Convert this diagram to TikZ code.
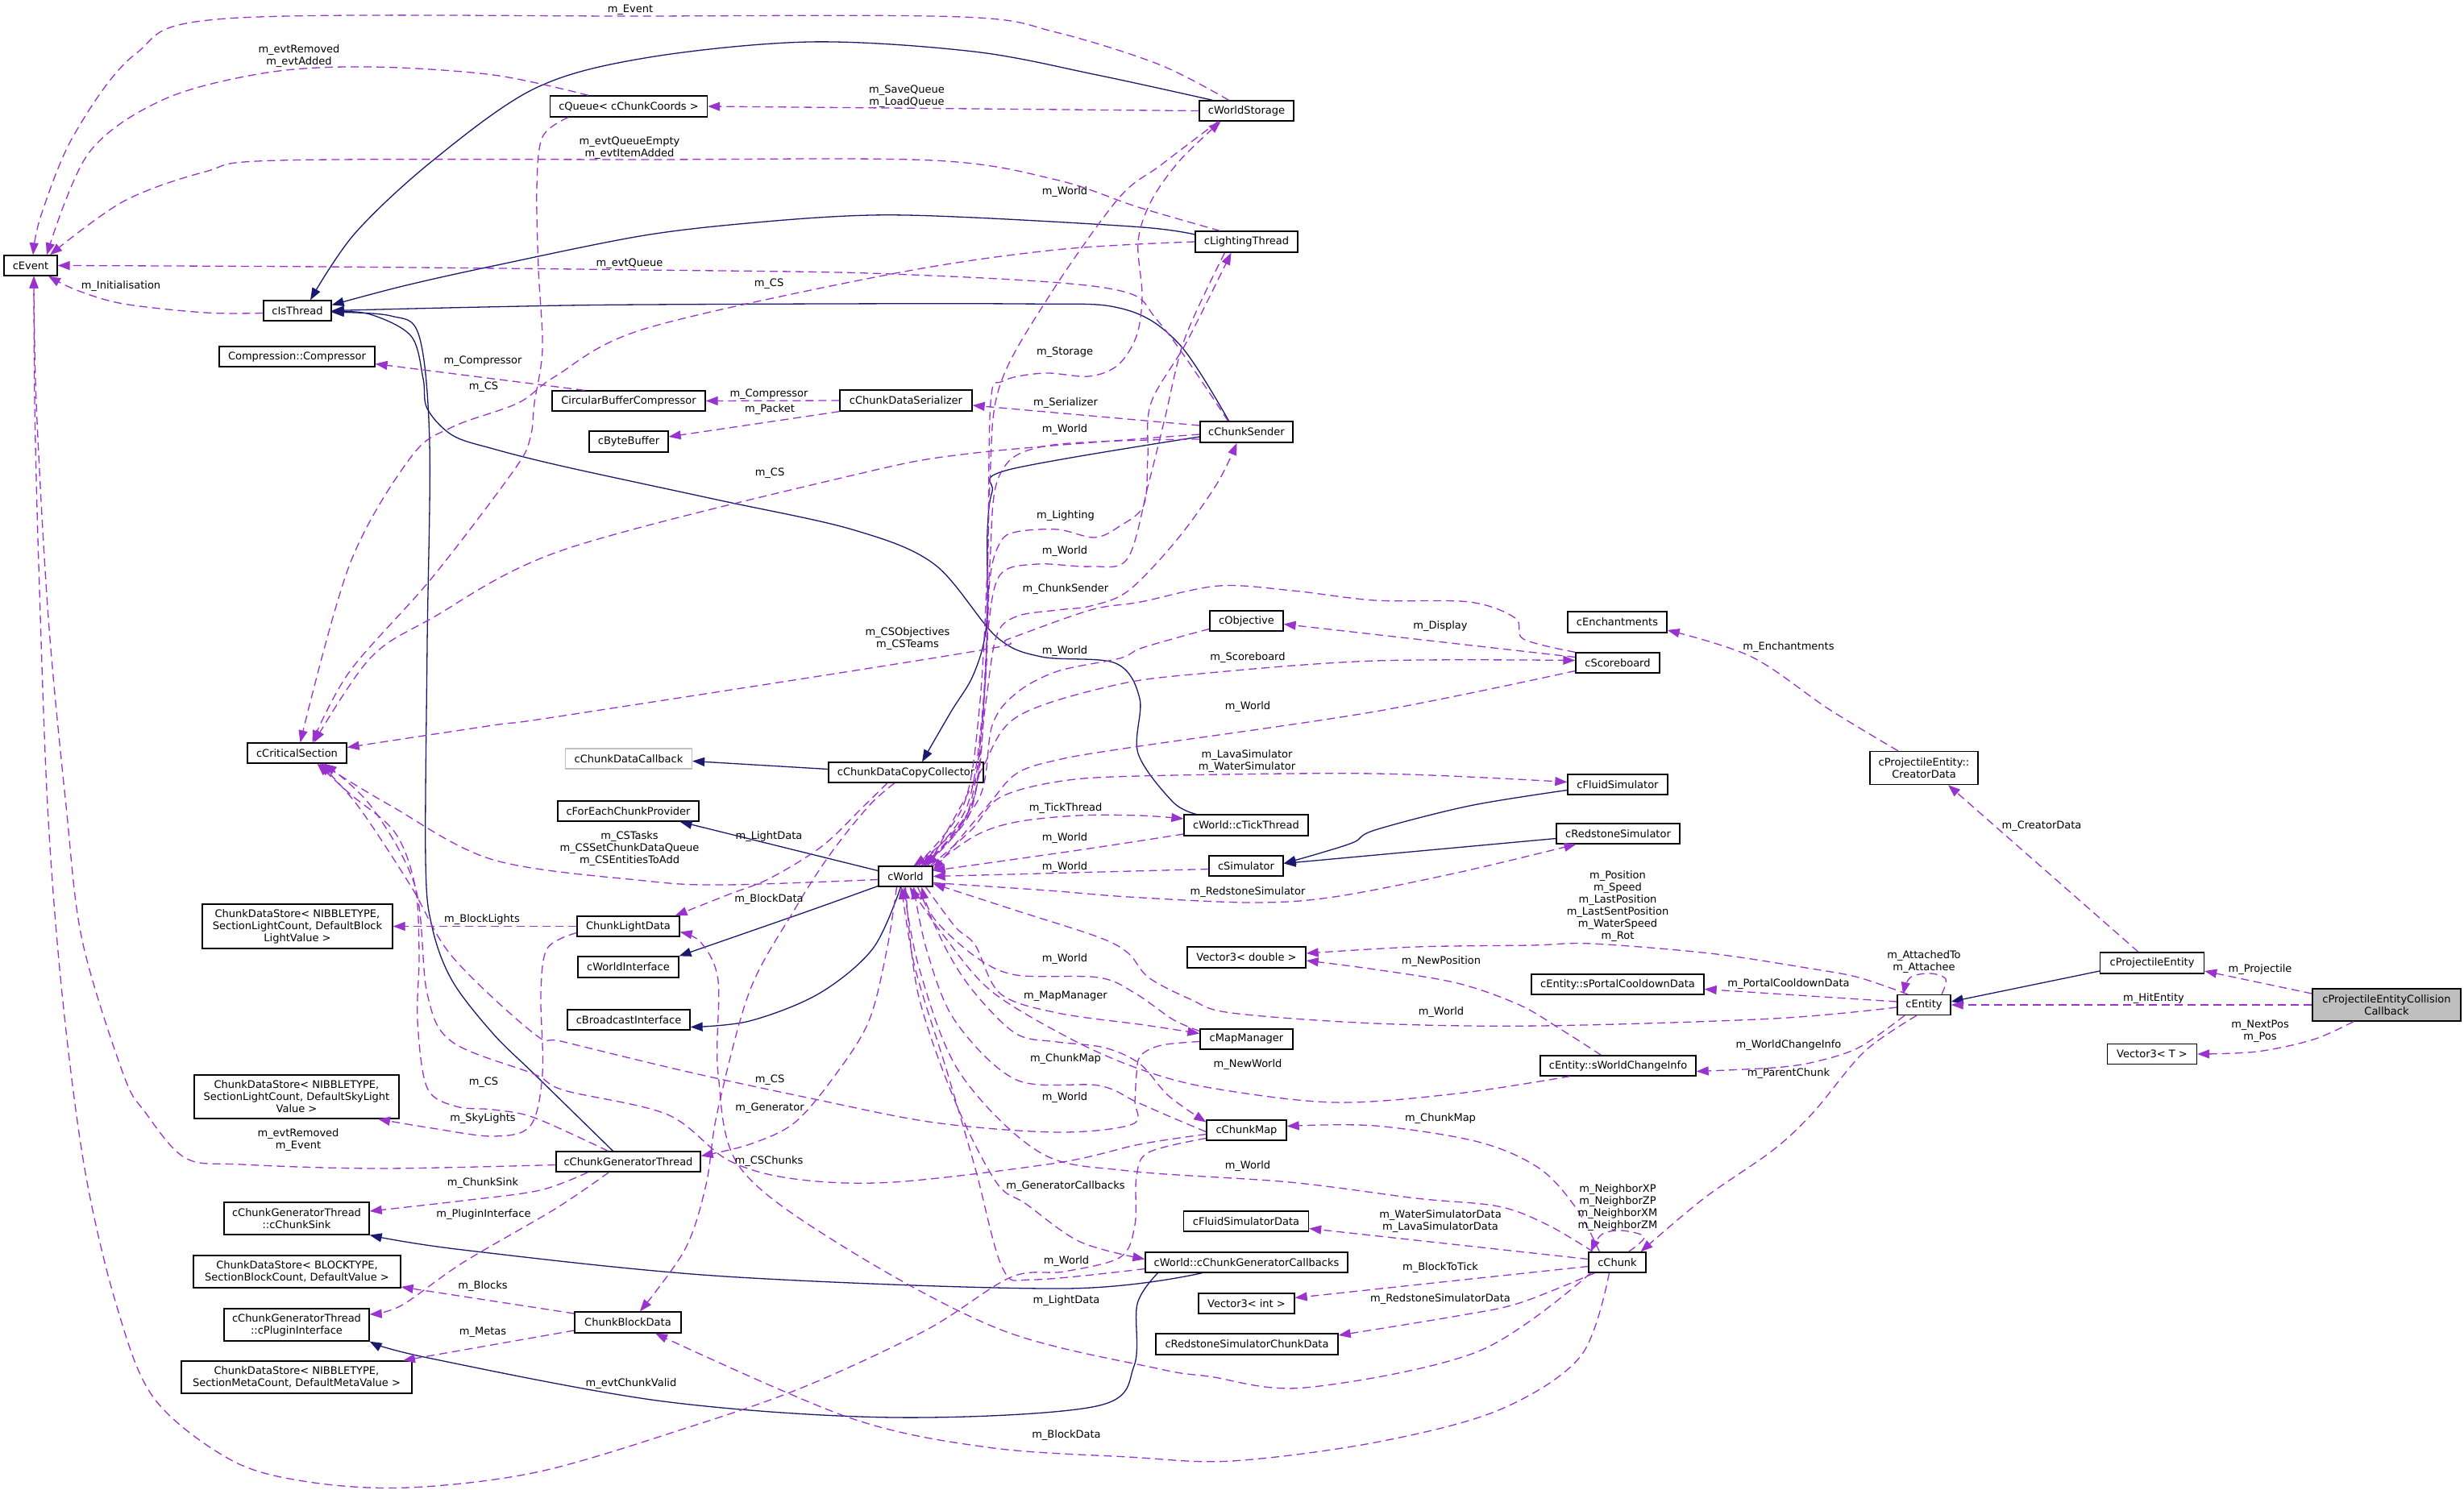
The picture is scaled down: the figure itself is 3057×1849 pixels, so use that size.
\documentclass[tikz,border=0pt]{standalone}
\usepackage{fontspec}
\setmainfont{DejaVu Sans}
\usetikzlibrary{arrows.meta}
\definecolor{navyc}{HTML}{191970}
\definecolor{orch}{HTML}{9A32CD}
\definecolor{rootgray}{HTML}{BFBFBF}
\begin{document}
\begin{tikzpicture}[x=1pt,y=-1pt,
  box/.style={draw=black, fill=white, line width=1.3pt, inner sep=0pt, align=center, font=\fontsize{13}{15}\selectfont},
  gbox/.style={box, draw=rootgray},
  rbox/.style={box, fill=rootgray},
  lbl/.style={inner sep=0pt, align=center, font=\fontsize{13}{15}\selectfont},
  inh/.style={draw=navyc, line width=1.3pt, -{Triangle[length=15pt,width=11pt]}},
  use/.style={draw=orch, line width=1.3pt, dash pattern=on 10pt off 6pt, -{Triangle[length=15pt,width=11pt]}},
  sm/.style={smooth, tension=0.55}]
\useasboundingbox (0,0) rectangle (3057,1849);
\fill[white] (0,0) rectangle (3057,1849);

% ---------------- nodes ----------------
\node[box, minimum width=66pt, minimum height=25pt] (event) at (38,329.5) {cEvent};
\node[box, minimum width=84pt, minimum height=25pt] (isthread) at (369,385.5) {cIsThread};
\node[box, minimum width=193pt, minimum height=25pt] (compressor) at (368.5,442.5) {Compression::Compressor};
\node[box, minimum width=195pt, minimum height=26pt] (queue) at (780,132) {cQueue< cChunkCoords >};
\node[box, minimum width=117pt, minimum height=25pt] (wstorage) at (1546.5,137.5) {cWorldStorage};
\node[box, minimum width=127pt, minimum height=26pt] (lighting) at (1546.5,300) {cLightingThread};
\node[box, minimum width=190pt, minimum height=25pt] (cbc) at (780,497.5) {CircularBufferCompressor};
\node[box, minimum width=164pt, minimum height=26pt] (serializer) at (1124,497) {cChunkDataSerializer};
\node[box, minimum width=98pt, minimum height=26pt] (bytebuffer) at (780,548) {cByteBuffer};
\node[box, minimum width=115pt, minimum height=26pt] (chunksender) at (1546.5,536) {cChunkSender};
\node[box, minimum width=123pt, minimum height=25pt] (critsec) at (368.5,934.5) {cCriticalSection};
\node[gbox, minimum width=157pt, minimum height=25pt] (callback) at (780,941.5) {cChunkDataCallback};
\node[box, minimum width=192pt, minimum height=25pt] (copycoll) at (1124,958.5) {cChunkDataCopyCollector};
\node[box, minimum width=91pt, minimum height=25pt] (objective) at (1546.5,770.5) {cObjective};
\node[box, minimum width=104pt, minimum height=25pt] (scoreboard) at (2007,822.5) {cScoreboard};
\node[box, minimum width=123pt, minimum height=26pt] (enchant) at (2006.5,772) {cEnchantments};
\node[box, minimum width=124pt, minimum height=25pt] (fluidsim) at (2007,973.5) {cFluidSimulator};
\node[box, minimum width=134pt, minimum height=41pt] (creator) at (2387,953) {cProjectileEntity::\\CreatorData};
\node[box, minimum width=175pt, minimum height=25pt] (foreach) at (779.5,1006.5) {cForEachChunkProvider};
\node[box, minimum width=154pt, minimum height=26pt] (tick) at (1546,1024) {cWorld::cTickThread};
\node[box, minimum width=153pt, minimum height=25pt] (redstone) at (2007.5,1034.5) {cRedstoneSimulator};
\node[box, minimum width=67pt, minimum height=25pt] (world) at (1123.5,1087.5) {cWorld};
\node[box, minimum width=92pt, minimum height=25pt] (simulator) at (1546,1074.5) {cSimulator};
\node[box, minimum width=236pt, minimum height=55pt] (cdsBL) at (369,1149.5) {ChunkDataStore< NIBBLETYPE,\\SectionLightCount, DefaultBlock\\LightValue >};
\node[box, minimum width=127pt, minimum height=25pt] (lightdata) at (779.5,1149.5) {ChunkLightData};
\node[box, minimum width=125pt, minimum height=26pt] (worldif) at (779.5,1200) {cWorldInterface};
\node[box, minimum width=147pt, minimum height=26pt] (vecd) at (1546.5,1188) {Vector3< double >};
\node[box, minimum width=129pt, minimum height=26pt] (projentity) at (2670,1195) {cProjectileEntity};
\node[box, minimum width=214pt, minimum height=25pt] (portal) at (2007,1221.5) {cEntity::sPortalCooldownData};
\node[box, minimum width=66pt, minimum height=25pt] (entity) at (2387,1247) {cEntity};
\node[rbox, minimum width=184pt, minimum height=40pt] (ccb) at (2961,1247) {cProjectileEntityCollision\\Callback};
\node[box, minimum width=152pt, minimum height=25pt] (broadcast) at (780,1265.5) {cBroadcastInterface};
\node[box, minimum width=115pt, minimum height=25pt] (mapmanager) at (1546.5,1289.5) {cMapManager};
\node[box, minimum width=193pt, minimum height=25pt] (worldchange) at (2007.5,1322.5) {cEntity::sWorldChangeInfo};
\node[box, minimum width=111pt, minimum height=25pt] (vect) at (2670,1308) {Vector3< T >};
\node[box, minimum width=254pt, minimum height=54pt] (cdsSL) at (368,1361) {ChunkDataStore< NIBBLETYPE,\\SectionLightCount, DefaultSkyLight\\Value >};
\node[box, minimum width=179pt, minimum height=25pt] (gen) at (779.5,1441.5) {cChunkGeneratorThread};
\node[box, minimum width=99pt, minimum height=25pt] (chunkmap) at (1546.5,1402.5) {cChunkMap};
\node[box, minimum width=180pt, minimum height=40pt] (sink) at (368,1512) {cChunkGeneratorThread\\::cChunkSink};
\node[box, minimum width=155pt, minimum height=25pt] (fluiddata) at (1546,1515.5) {cFluidSimulatorData};
\node[box, minimum width=257pt, minimum height=40pt] (cdsB) at (368.5,1578) {ChunkDataStore< BLOCKTYPE,\\SectionBlockCount, DefaultValue >};
\node[box, minimum width=251pt, minimum height=25pt] (gencb) at (1546.5,1566.5) {cWorld::cChunkGeneratorCallbacks};
\node[box, minimum width=71pt, minimum height=25pt] (chunk) at (2006.5,1566.5) {cChunk};
\node[box, minimum width=180pt, minimum height=40pt] (plugin) at (368,1644) {cChunkGeneratorThread\\::cPluginInterface};
\node[box, minimum width=132pt, minimum height=26pt] (blockdata) at (779,1641) {ChunkBlockData};
\node[box, minimum width=119pt, minimum height=25pt] (veci) at (1546.5,1617.5) {Vector3< int >};
\node[box, minimum width=226pt, minimum height=26pt] (rsdata) at (1547,1668) {cRedstoneSimulatorChunkData};
\node[box, minimum width=286pt, minimum height=40pt] (cdsM) at (368,1709) {ChunkDataStore< NIBBLETYPE,\\SectionMetaCount, DefaultMetaValue >};

% ---------------- inheritance ----------------
\draw[inh] plot[sm] coordinates {([xshift=-42pt]wstorage.north) (1361,93) (1208,64) (1004,52) (800,72) (663,110) (536,200) (440,290) ([xshift=16pt]isthread.north)};
\draw[inh] plot[sm] coordinates {([yshift=9pt]lighting.west) (1417,282) (1208,270) (1081,267) (950,275) (800,292) (612,330) (500,355) ([yshift=7pt]isthread.east)};
\draw[inh] plot[sm] coordinates {([xshift=-22pt]chunksender.north) (1463,427) (1392,383) (1259,377) (800,378) (600,381) (isthread.east)};
\draw[inh] plot[sm] coordinates {([xshift=-62pt]tick.north) (1455,995) (1412,935) (1414,867) (1384,823) (1292,815) (1236,790) (1159,700) (1057,657) (889,620) (700,579) (612,557) (561,540) (530,507) (525,470) (510,417) (459,390) ([yshift=-1pt]isthread.east)};
\draw[inh] plot[sm] coordinates {([xshift=-19pt]gen.north) (663,1333) (612,1283) (561,1217) (536,1150) (528,1067) (530,800) (533,550) (520,417) (485,392) ([yshift=-2pt]isthread.east)};
\draw[inh] ([yshift=4pt]copycoll.west) -- ([yshift=-3pt]callback.east);
\draw[inh] plot[sm] coordinates {([yshift=-6pt]chunksender.west) (1251,583) (1231,610) (1225,660) (1225,753) (1220,800) (1205,843) (1180,883) ([xshift=20pt]copycoll.north)};
\draw[inh] ([yshift=7pt]world.west) -- ([xshift=64pt]foreach.south);
\draw[inh] plot[sm] coordinates {([yshift=-12pt]world.west) (996,1133) ([xshift=63pt]worldif.north)};
\draw[inh] plot[sm] coordinates {([xshift=-6pt]world.south) (1083,1177) (1016,1233) (930,1267) ([yshift=-9pt]broadcast.east)};
\draw[inh] plot[sm] coordinates {([yshift=-7pt]fluidsim.west) (1823,1000) (1706,1030) (1680,1045) (1640,1058) ([yshift=3pt]simulator.east)};
\draw[inh] ([yshift=-6pt]redstone.west) -- ([yshift=3pt]simulator.east);
\draw[inh] ([yshift=-10pt]projentity.west) -- ([yshift=4pt]entity.east);
\draw[inh] plot[sm] coordinates {([xshift=-55pt]gencb.south) (1321,1599) (900,1584) (574,1551) (sink.south east)};
\draw[inh] plot[sm] coordinates {([xshift=-110pt]gencb.south) (1411,1618) (1407,1695) (1360,1745) (1110,1759) (823,1739) (531,1685) (plugin.south east)};

% ---------------- usage ----------------
\draw[use] plot[sm] coordinates {([xshift=-22pt]wstorage.north) (1438,80) (1310,40) (1193,21) (800,20) (281,23) (168,67) (92,167) (51,267) ([xshift=3pt]event.north)};
\draw[use] plot[sm] coordinates {([xshift=-50pt]queue.north) (612,93) (459,83) (332,90) (204,123) (110,190) ([xshift=20pt]event.north)};
\draw[use] (wstorage.west) -- (queue.east);
\draw[use] plot[sm] coordinates {([xshift=-33pt]lighting.north) (1412,257) (1310,223) (1157,199) (800,198) (347,199) (255,213) (153,250) ([xshift=24pt]event.north)};
\draw[use] plot[sm] coordinates {(lighting.west) (1310,310) (1106,340) (800,408) (689,467) (643,500) (561,530) (510,567) (434,700) ([xshift=4pt]critsec.north)};
\draw[use] plot[sm] coordinates {([xshift=-75pt]queue.south) (673,170) (666,233) (668,333) (673,433) (663,500) (658,543) (638,583) (536,717) (434,833) ([xshift=19pt]critsec.north)};
\draw[use] plot[sm] coordinates {([yshift=-3pt]chunksender.west) (1210,562) (1057,590) (700,682) (536,767) (459,817) ([xshift=21pt]critsec.north)};
\draw[use] ([yshift=8pt]chunksender.west) -- ([yshift=-6pt]serializer.east);
\draw[use] (serializer.west) -- (cbc.east);
\draw[use] ([xshift=-55pt]cbc.north) -- ([yshift=-9pt]compressor.east);
\draw[use] (serializer.south west) -- ([yshift=6pt]bytebuffer.east);
\draw[use] plot[sm] coordinates {([yshift=-9pt]chunksender.west) (1300,553) (1240,590) (1228,700) (1220,880) (1200,1010) ([xshift=23pt]world.north)};
\draw[use] plot[sm] coordinates {([xshift=-35pt]wstorage.south) (1440,205) (1387,247) (1300,370) (1240,480) (1228,600) (1222,850) (1205,1000) ([xshift=10pt]world.north)};
\draw[use] plot[sm] coordinates {([xshift=13pt]world.north) (1195,1000) (1215,880) (1225,700) (1229,500) (1244,473) (1295,463) (1351,467) (1387,453) (1410,417) (1417,367) (1412,300) (1428,250) (1463,200) ([xshift=-32pt]wstorage.south)};
\draw[use] plot[sm] coordinates {([xshift=16pt]world.north) (1200,1000) (1222,850) (1228,720) (1241,673) (1261,660) (1312,657) (1358,667) (1389,653) (1419,627) (1424,567) (1428,500) (1473,423) ([xshift=-19pt]lighting.south)};
\draw[use] plot[sm] coordinates {([xshift=-27pt]lighting.south) (1470,420) (1445,520) (1425,600) (1399,693) (1353,703) (1287,700) (1241,713) (1226,780) (1218,900) (1203,1010) ([xshift=19pt]world.north)};
\draw[use] plot[sm] coordinates {([xshift=22pt]world.north) (1205,1000) (1222,880) (1236,790) (1261,765) (1312,757) (1353,752) (1400,733) (1460,670) (1510,600) ([xshift=-12pt]chunksender.south)};
\draw[use] plot[sm] coordinates {([yshift=-10pt]objective.west) (1465,790) (1414,805) (1389,817) (1312,833) (1261,860) (1231,900) (1215,990) ([xshift=25pt]world.north)};
\draw[use] plot[sm] coordinates {([xshift=28pt]world.north) (1215,960) (1261,890) (1384,850) (1500,835) (1706,820) ([yshift=3pt]scoreboard.west)};
\draw[use] plot[sm] coordinates {([yshift=-10pt]scoreboard.west) (1706,883) (1400,928) (1312,943) (1261,960) (1225,1000) ([yshift=7pt]world.east)};
\draw[use] ([yshift=7pt]scoreboard.west) -- ([yshift=-4pt]objective.east);
\draw[use] plot[sm] coordinates {(scoreboard.north west) (1890,793) (1880,767) (1823,747) (1706,745) (1604,733) (1512,727) (1415,747) (1353,757) (1251,793) (1210,808) (700,888) (612,900) ([yshift=7pt]critsec.east)};
\draw[use] plot[sm] coordinates {([xshift=31pt]world.north) (1205,1030) (1240,990) (1312,970) (1414,963) (1706,960) ([yshift=3pt]fluidsim.west)};
\draw[use] plot[sm] coordinates {(world.north east) (1210,1037) (1261,1020) (1338,1012) (1414,1012) ([yshift=8pt]tick.west)};
\draw[use] plot[sm] coordinates {([yshift=-11pt]tick.west) (1338,1055) ([yshift=7pt]world.east)};
\draw[use] ([yshift=-4pt]simulator.west) -- (world.east);
\draw[use] plot[sm] coordinates {([yshift=-8pt]world.east) (1300,1105) (1400,1113) (1553,1120) (1655,1113) (1808,1083) ([xshift=-52pt]redstone.south)};
\draw[use] plot[sm] coordinates {([yshift=-4pt]world.west) (900,1098) (800,1093) (612,1067) (485,1000) ([xshift=30pt]critsec.south)};
\draw[use] plot[sm] coordinates {([xshift=-23pt]copycoll.south) (1072,1000) (1020,1050) (955,1090) (904,1110) ([xshift=58pt]lightdata.north)};
\draw[use] plot[sm] coordinates {([xshift=-14pt]copycoll.south) (1078,1000) (1030,1060) (985,1130) (930,1230) (890,1380) (876,1470) (850,1550) ([xshift=15pt]blockdata.north)};
\draw[use] (lightdata.west) -- (cdsBL.east);
\draw[use] plot[sm] coordinates {([yshift=-8pt]lightdata.west) (679,1177) (671,1233) (673,1333) (658,1397) (612,1410) (536,1400) ([xshift=101pt]cdsSL.south)};
\draw[use] plot[sm] coordinates {([xshift=-25pt]gen.north) (663,1387) (612,1377) (566,1373) (530,1350) (518,1267) (520,1183) (515,1100) (490,1033) (434,985) ([xshift=25pt]critsec.south)};
\draw[use] plot[sm] coordinates {([xshift=-50pt]gen.south) (670,1477) (574,1490) ([yshift=9pt]sink.east)};
\draw[use] plot[sm] coordinates {([xshift=-24pt]gen.south) (689,1500) (574,1567) (498,1620) ([yshift=13pt]plugin.east)};
\draw[use] plot[sm] coordinates {([yshift=-4pt]gen.west) (470,1450) (300,1445) (230,1437) (180,1380) (153,1333) (102,1167) (82,1000) (60,767) (45,500) ([xshift=4pt]event.south)};
\draw[use] plot[sm] coordinates {([xshift=-11pt]world.south) (1100,1180) (1078,1267) (1037,1333) (986,1393) (930,1420) ([yshift=7pt]gen.east)};
\draw[use] plot[sm] coordinates {([xshift=25pt]world.south) (1185,1150) (1210,1173) (1241,1233) (1312,1257) (1420,1272) ([yshift=7pt]mapmanager.west)};
\draw[use] plot[sm] coordinates {([yshift=10pt]mapmanager.west) (1455,1265) (1409,1233) (1363,1213) (1261,1210) (1210,1187) (1159,1140) ([xshift=20pt]world.south)};
\draw[use] plot[sm] coordinates {([xshift=15pt]world.south) (1175,1180) (1210,1233) (1261,1283) (1312,1293) (1370,1300) (1414,1320) (1450,1360) ([yshift=10pt]chunkmap.west)};
\draw[use] plot[sm] coordinates {([yshift=-2pt]chunkmap.west) (1450,1385) (1409,1367) (1363,1347) (1261,1340) (1185,1267) (1150,1180) ([xshift=10pt]world.south)};
\draw[use] plot[sm] coordinates {([xshift=-60pt]worldchange.south) (1808,1357) (1655,1368) (1502,1350) (1415,1327) (1330,1290) (1230,1230) (1170,1160) ([xshift=5pt]world.south)};
\draw[use] plot[sm] coordinates {(world.south) (1139,1233) (1185,1367) (1236,1467) (1273,1494) (1340,1541) ([yshift=4pt]gencb.west)};
\draw[use] plot[sm] coordinates {([yshift=-8pt]gencb.west) (1282,1588) (1244,1574) (1210,1450) (1175,1330) (1135,1200) ([xshift=-5pt]world.south)};
\draw[use] plot[sm] coordinates {([xshift=-30pt]chunk.north) (1920,1520) (1859,1497) (1757,1487) (1600,1467) (1400,1453) (1290,1430) (1190,1330) (1140,1200) ([xshift=-2pt]world.south)};
\draw[use] plot[sm] coordinates {([xshift=-22pt]chunk.north) (1956,1500) (1910,1450) (1834,1417) (1706,1397) ([yshift=5pt]chunkmap.east)};
\draw[use] plot[sm] coordinates {([xshift=14pt]chunk.north) (2040,1535) (2012,1527) (1987,1532) ([xshift=-33pt]chunk.north)};
\draw[use] ([yshift=4pt]chunk.west) -- ([yshift=-9pt]fluiddata.east);
\draw[use] ([yshift=-5pt]chunk.west) -- ([yshift=7pt]veci.east);
\draw[use] plot[sm] coordinates {([xshift=-28pt]chunk.south) (1885,1617) (1808,1633) ([yshift=11pt]rsdata.east)};
\draw[use] plot[sm] coordinates {([xshift=-33pt]chunk.south) (1834,1677) (1619,1722) (1500,1708) (1435,1698) (1244,1651) (1053,1551) (919,1450) (891,1333) (891,1217) (870,1170) ([yshift=-7pt]lightdata.east)};
\draw[use] plot[sm] coordinates {([xshift=-10pt]chunk.south) (1961,1683) (1859,1750) (1706,1790) (1528,1813) (1400,1808) (1225,1796) (1053,1759) ([xshift=34pt]blockdata.south)};
\draw[use] plot[sm] coordinates {([yshift=-5pt]chunkmap.west) (1414,1420) (1312,1443) (1108,1467) (986,1463) (904,1440) (828,1383) (700,1353) (663,1333) (561,1293) (530,1233) (515,1100) (460,1000) ([xshift=34pt]critsec.south)};
\draw[use] plot[sm] coordinates {([yshift=-3pt]mapmanager.west) (1441,1297) (1415,1310) (1410,1333) (1408,1367) (1405,1395) (1312,1405) (1159,1393) (1006,1363) (853,1330) (700,1293) (663,1283) (561,1187) (510,1100) (444,1000) ([xshift=28pt]critsec.south)};
\draw[use] plot[sm] coordinates {([yshift=-10pt]chunkmap.west) (1425,1430) (1410,1460) (1408,1520) (1390,1560) (1320,1578) (1254,1585) (1150,1650) (1000,1720) (861,1769) (670,1826) (507,1846) (383,1839) (287,1812) (191,1735) (144,1618) (105,1450) (77,1233) (59,1000) (48,700) (43,500) ([xshift=4pt]event.south)};
\draw[use] plot[sm] coordinates {([xshift=-20pt]entity.north) (2306,1213) (2247,1202) (2121,1183) (1974,1171) (1900,1173) (1757,1175) ([yshift=5pt]vecd.east)};
\draw[use] ([yshift=4pt]entity.west) -- ([yshift=-6pt]portal.east);
\draw[use] plot[sm] coordinates {([yshift=-3pt]entity.west) (2200,1264) (1910,1273) (1706,1270) (1528,1257) (1477,1240) (1425,1213) (1400,1183) (1363,1163) (1261,1130) ([yshift=-9pt]world.east)};
\draw[use] plot[sm] coordinates {([xshift=-24pt]entity.south) (2306,1300) (2250,1318) (2200,1325) ([yshift=-7pt]worldchange.east)};
\draw[use] plot[sm] coordinates {([xshift=-9pt]entity.south) (2313,1305) (2250,1380) (2200,1427) (2114,1487) ([xshift=29pt]chunk.north)};
\draw[use] plot[sm] coordinates {([xshift=-21pt]worldchange.north) (1936,1277) (1885,1247) (1808,1220) (1706,1203) ([yshift=-4pt]vecd.east)};
\draw[use] plot[sm] coordinates {([xshift=22pt]entity.north) (2414,1215) (2395,1208) (2370,1213) ([xshift=-26pt]entity.north)};
\draw[use] (ccb.west) -- (entity.east);
\draw[use] ([yshift=14pt]ccb.west) -- ([yshift=-10pt]projentity.east);
\draw[use] plot[sm] coordinates {([xshift=-41pt]ccb.south) (2870,1290) (2800,1305) (vect.east)};
\draw[use] ([xshift=-17pt]projentity.north) -- ([xshift=30pt]creator.south);
\draw[use] plot[sm] coordinates {([xshift=-32pt]creator.north) (2269,880) (2173,815) ([yshift=-10pt]enchant.east)};
\draw[use] plot[sm] coordinates {([xshift=-23pt]chunksender.north) (1438,400) (1376,358) (1106,340) (800,335) (400,331) (event.east)};
\draw[use] plot[sm] coordinates {([yshift=-3pt]isthread.west) (255,388) (153,377) (95,360) ([xshift=22pt]event.south)};
\draw[use] ([yshift=11pt]blockdata.west) -- ([yshift=-19pt]cdsB.east);
\draw[use] ([yshift=-10pt]blockdata.west) -- ([xshift=132pt]cdsM.north);

% ---------------- labels ----------------
\node[lbl] (l1) at (782,12) {m\_Event};
\node[lbl] (l2) at (371,70) {m\_evtRemoved\\m\_evtAdded};
\node[lbl] (l3) at (1125,120) {m\_SaveQueue\\m\_LoadQueue};
\node[lbl] (l4) at (781,184) {m\_evtQueueEmpty\\m\_evtItemAdded};
\node[lbl] (l5) at (1321,238) {m\_World};
\node[lbl] (l6) at (781,327) {m\_evtQueue};
\node[lbl] (l7) at (150,355) {m\_Initialisation};
\node[lbl] (l8) at (954,352) {m\_CS};
\node[lbl] (l9) at (1321,437) {m\_Storage};
\node[lbl] (l10) at (599,448) {m\_Compressor};
\node[lbl] (l11) at (600,480) {m\_CS};
\node[lbl] (l12) at (954,489) {m\_Compressor};
\node[lbl] (l13) at (1322,500) {m\_Serializer};
\node[lbl] (l14) at (955,508) {m\_Packet};
\node[lbl] (l15) at (1321,533) {m\_World};
\node[lbl] (l16) at (955,587) {m\_CS};
\node[lbl] (l17) at (1322,640) {m\_Lighting};
\node[lbl] (l18) at (1321,684) {m\_World};
\node[lbl] (l19) at (1322,731) {m\_ChunkSender};
\node[lbl] (l20) at (1787,777) {m\_Display};
\node[lbl] (l21) at (1126,793) {m\_CSObjectives\\m\_CSTeams};
\node[lbl] (l22) at (1321,808) {m\_World};
\node[lbl] (l23) at (1548,816) {m\_Scoreboard};
\node[lbl] (l24) at (2219,803) {m\_Enchantments};
\node[lbl] (l25) at (1548,877) {m\_World};
\node[lbl] (l26) at (1547,945) {m\_LavaSimulator\\m\_WaterSimulator};
\node[lbl] (l27) at (1322,1003) {m\_TickThread};
\node[lbl] (l28) at (2533,1025) {m\_CreatorData};
\node[lbl] (l29) at (954,1038) {m\_LightData};
\node[lbl] (l30) at (1321,1040) {m\_World};
\node[lbl] (l31) at (781,1053) {m\_CSTasks\\m\_CSSetChunkDataQueue\\m\_CSEntitiesToAdd};
\node[lbl] (l32) at (1321,1076) {m\_World};
\node[lbl] (l33) at (1548,1107) {m\_RedstoneSimulator};
\node[lbl] (l34) at (954,1116) {m\_BlockData};
\node[lbl] (l35) at (2007,1125) {m\_Position\\m\_Speed\\m\_LastPosition\\m\_LastSentPosition\\m\_WaterSpeed\\m\_Rot};
\node[lbl] (l36) at (598,1141) {m\_BlockLights};
\node[lbl] (l37) at (1321,1190) {m\_World};
\node[lbl] (l38) at (2387,1194) {m\_AttachedTo\\m\_Attachee};
\node[lbl] (l39) at (1788,1193) {m\_NewPosition};
\node[lbl] (l40) at (2804,1203) {m\_Projectile};
\node[lbl] (l41) at (2219,1221) {m\_PortalCooldownData};
\node[lbl] (l42) at (1322,1236) {m\_MapManager};
\node[lbl] (l43) at (2672,1239) {m\_HitEntity};
\node[lbl] (l44) at (1788,1256) {m\_World};
\node[lbl] (l45) at (2804,1280) {m\_NextPos\\m\_Pos};
\node[lbl] (l46) at (2219,1297) {m\_WorldChangeInfo};
\node[lbl] (l47) at (1322,1314) {m\_ChunkMap};
\node[lbl] (l48) at (1548,1321) {m\_NewWorld};
\node[lbl] (l49) at (2219,1332) {m\_ParentChunk};
\node[lbl] (l50) at (955,1340) {m\_CS};
\node[lbl] (l51) at (600,1343) {m\_CS};
\node[lbl] (l52) at (1321,1362) {m\_World};
\node[lbl] (l53) at (955,1375) {m\_Generator};
\node[lbl] (l54) at (1787,1388) {m\_ChunkMap};
\node[lbl] (l55) at (599,1388) {m\_SkyLights};
\node[lbl] (l56) at (370,1415) {m\_evtRemoved\\m\_Event};
\node[lbl] (l57) at (954,1441) {m\_CSChunks};
\node[lbl] (l58) at (1548,1447) {m\_World};
\node[lbl] (l59) at (599,1468) {m\_ChunkSink};
\node[lbl] (l60) at (1322,1472) {m\_GeneratorCallbacks};
\node[lbl] (l61) at (2007,1499) {m\_NeighborXP\\m\_NeighborZP\\m\_NeighborXM\\m\_NeighborZM};
\node[lbl] (l62) at (600,1507) {m\_PluginInterface};
\node[lbl] (l63) at (1787,1516) {m\_WaterSimulatorData\\m\_LavaSimulatorData};
\node[lbl] (l64) at (1323,1565) {m\_World};
\node[lbl] (l65) at (1787,1573) {m\_BlockToTick};
\node[lbl] (l66) at (599,1596) {m\_Blocks};
\node[lbl] (l67) at (1787,1612) {m\_RedstoneSimulatorData};
\node[lbl] (l68) at (1323,1614) {m\_LightData};
\node[lbl] (l69) at (599,1653) {m\_Metas};
\node[lbl] (l70) at (783,1717) {m\_evtChunkValid};
\node[lbl] (l71) at (1323,1781) {m\_BlockData};
\end{tikzpicture}
\end{document}
